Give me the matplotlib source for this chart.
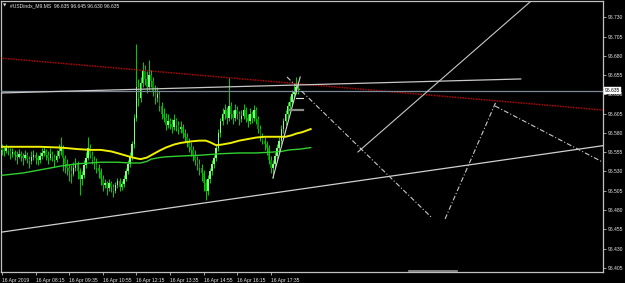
import matplotlib
matplotlib.use("Agg")
import matplotlib.pyplot as plt
import numpy as np

plt.rcParams['lines.scale_dashes'] = False
plt.rcParams['font.family'] = ['Liberation Sans', 'DejaVu Sans']

# ---- data (prices in thousandths above 96.000) ----
opens = [560,558,556,560,557,553,555,551,549,553,550,548,552,546,544,549,552,547,545,550,
         554,556,552,548,553,549,545,550,556,560,548,540,535,530,527,535,540,530,520,525,
         538,548,560,552,545,540,535,530,520,512,515,508,515,510,505,512,518,510,514,520,
         530,540,550,565,600,640,625,645,660,650,640,655,648,635,625,630,615,605,600,590,
         595,592,588,597,590,585,588,580,575,570,562,558,550,545,540,535,528,515,505,520,
         530,540,548,560,580,595,605,610,600,615,605,600,610,605,598,602,610,600,595,605,
         600,610,598,585,575,570,565,560,545,535,540,550,560,570,585,595,605,615,620,630,
         635,635]
highs = [565,562,566,563,560,561,558,556,559,557,554,558,555,550,556,558,555,551,555,560,
         562,559,556,560,557,553,558,566,575,564,552,546,540,538,542,548,543,534,530,545,
         555,575,565,556,550,547,540,534,525,520,518,520,518,514,516,522,521,518,525,535,
         545,555,570,605,695,650,652,672,668,660,675,662,652,642,640,634,620,612,606,604,
         600,598,604,600,596,595,592,585,580,574,568,563,558,550,546,540,532,520,525,535,
         545,552,565,585,600,612,618,614,652,620,610,618,615,608,610,618,613,604,612,609,
         616,613,602,590,580,575,570,564,550,545,555,565,575,590,600,610,620,628,636,645,
         652,645]
lows = [552,550,554,551,546,549,545,540,547,544,538,545,541,535,540,545,540,538,541,546,
        550,545,540,545,543,536,542,547,552,530,528,525,518,515,524,530,520,500,512,522,
        535,545,548,540,533,528,522,512,505,508,500,505,503,497,502,508,505,506,510,517,
        527,536,545,560,595,615,620,640,642,632,636,640,628,618,620,608,598,594,584,586,
        585,580,584,583,578,580,573,568,562,555,550,543,538,532,525,518,505,493,500,515,
        526,535,544,556,575,590,598,592,596,598,592,596,598,590,594,598,594,588,592,593,
        596,592,580,570,565,558,552,540,528,521,536,546,555,566,580,590,600,610,615,625,
        630,630]
closes = [558,556,560,557,553,555,551,549,553,550,548,552,546,544,549,552,547,545,550,554,
          556,552,548,553,549,545,550,556,560,548,540,535,530,527,535,540,530,520,525,538,
          548,560,552,545,540,535,530,520,512,515,508,515,510,505,512,518,510,514,520,530,
          540,550,565,600,640,625,645,660,650,640,655,648,635,625,630,615,605,600,590,595,
          592,588,597,590,585,588,580,575,570,562,558,550,545,540,535,528,515,505,520,530,
          540,548,560,580,595,605,610,600,615,605,600,610,605,598,602,610,600,595,605,600,
          610,598,585,575,570,565,560,545,535,540,550,560,570,585,595,605,615,620,630,635,
          640,635]

# moving averages (bar index, value)
ma_yellow_idx = [0, 18, 28, 36, 42, 47, 52, 56, 61, 64, 66, 69, 71, 75, 78, 82, 85, 90, 94,
                 97, 99, 102, 105, 109, 113, 117, 121, 125, 128, 132, 135, 138, 140, 143, 145, 147]
ma_yellow_val = [562, 562, 561, 559, 558, 558, 556, 553, 549, 547, 546, 548, 551, 557, 561, 565,
                 567, 569, 570, 570, 568, 564, 565, 567, 570, 572, 574, 575, 575, 575, 575, 577,
                 579, 581, 583, 585]
ma_green_idx = [0, 10, 18, 28, 36, 42, 47, 55, 61, 66, 69, 71, 75, 78, 85, 94, 104, 113,
                121, 128, 133, 137, 142, 147]
ma_green_val = [525, 528, 532, 537, 540, 541, 542, 542, 541, 541, 543, 546, 548, 549, 550, 551,
                553, 554, 554, 555, 556, 558, 559, 561]

# drawn objects: (bar index, price thousandths)
red_line = [(-1, 677.2), (287, 609.5)]
upper_trend = [(-1, 631.8), (247, 650.0)]
lower_trend = [(-1, 451.0), (287, 563.8)]
steep_line = [(129, 521.5), (142, 652.6)]
long_line = [(169.5, 555.3), (262, 775)]
zig1 = [(135.7, 652.6), (204.3, 471.0)]
zig2 = [(211, 468.4), (235.2, 620.2)]
zig3 = [(234.8, 614.9), (287, 540.8)]
gray_marks = [((137, 143.3), 609.7, '#8a8a8a', 1.6), ((140, 143.3), 625.3, '#e0e0e0', 0.8),
              ((194, 216.7), 401.2, '#9a9a9a', 1.2)]
last_price = 635
tick_prices = [405, 430, 455, 480, 505, 530, 555, 580, 605, 630, 655, 680, 705, 730]
xtick_bars = [0, 16, 32, 48, 64, 80, 96, 112, 128]
xtick_labels = ['16 Apr 2019', '16 Apr 08:15', '16 Apr 09:35', '16 Apr 10:55', '16 Apr 12:15',
                '16 Apr 13:35', '16 Apr 14:55', '16 Apr 16:15', '16 Apr 17:35']
title = '#USDindx_M9.MS  96.635 96.645 96.630 96.635'


def P(v):
    return 96.0 + np.asarray(v, dtype=float) / 1000.0


W, H = 625, 283
fig = plt.figure(figsize=(W / 100, H / 100), dpi=100, facecolor='black')
ax = fig.add_axes([1 / W, (H - 272) / H, 602 / W, 271 / H], facecolor='black')
ax.set_xlim(-0.476, 286.19)
ax.set_ylim(96.39956, 96.75115)

# candles
o = P(opens); h = P(highs); l = P(lows); c = P(closes)
idx = np.arange(len(opens))
ax.vlines(idx, l, h, color='#00d000', lw=0.7, zorder=3)
up = c >= o
ax.bar(idx[up], (c - o)[up], bottom=o[up], width=0.75, color='#7cff7c', lw=0, zorder=4)
ax.bar(idx[~up], (o - c)[~up], bottom=c[~up], width=0.75, color='#008a00', lw=0, zorder=4)

# MAs
ax.plot(ma_yellow_idx, P(ma_yellow_val), color='#f0f000', lw=1.4, zorder=5)
ax.plot(ma_green_idx, P(ma_green_val), color='#30d030', lw=1.0, zorder=5)


def seg(pts, **kw):
    xs = [p[0] for p in pts]
    ys = P([p[1] for p in pts])
    ax.plot(xs, ys, **kw)


seg(red_line, color='#c00000', lw=1.1, ls=(0, (1.0, 0.9)), zorder=6)
ax.axhline(P(last_price), color='#7a8898', lw=0.9, zorder=6)
seg(upper_trend, color='#c8c8c8', lw=0.9, zorder=6)
seg(lower_trend, color='#d0d0d0', lw=0.9, zorder=6)
seg(steep_line, color='#d8d8d8', lw=0.8, zorder=6)
seg(long_line, color='#c8c8c8', lw=0.8, zorder=6)
dd = (0, (3.5, 1.5, 0.8, 1.5))
seg(zig1, color='#c8c8c8', lw=0.8, ls=dd, zorder=6)
seg(zig2, color='#c8c8c8', lw=0.8, ls=dd, zorder=6)
seg(zig3, color='#c8c8c8', lw=0.8, ls=dd, zorder=6)
for (x0, x1), yv, col, lw in gray_marks:
    ax.plot([x0, x1], [P(yv), P(yv)], color=col, lw=lw, zorder=6)

# frame
for s in ax.spines.values():
    s.set_color('#c0c0c0')
    s.set_linewidth(0.9)

ax.yaxis.tick_right()
ax.set_yticks(P(tick_prices))
ax.set_yticklabels(['96.%03d' % v for v in tick_prices])
ax.tick_params(axis='y', colors='#c0c0c0', labelcolor='#e8e8e8', length=2.5, width=0.6,
               labelsize=3.6, pad=1)
ax.set_xticks(xtick_bars)
ax.set_xticklabels(xtick_labels, ha='left')
ax.tick_params(axis='x', colors='#c0c0c0', labelcolor='#e8e8e8', length=2.5, width=0.6,
               labelsize=3.6, pad=1.5)

# current price box
ax.text(1.003, P(last_price), '96.%03d' % last_price, transform=ax.get_yaxis_transform(),
        ha='left', va='center', fontsize=3.6, color='black', zorder=10, clip_on=False,
        bbox=dict(boxstyle='square,pad=0.25', fc='white', ec='white', lw=0.3))

# title
fig.text(3 / W, 1 - 5.5 / H, '\u25bc', fontsize=3.2, color='#e0e0e0', va='center', ha='left',
         family=['DejaVu Sans'])
fig.text(10 / W, 1 - 5.7 / H, title, fontsize=3.6, color='#e8e8e8', va='center', ha='left')

fig.savefig('out.png', dpi=100, facecolor='black')
